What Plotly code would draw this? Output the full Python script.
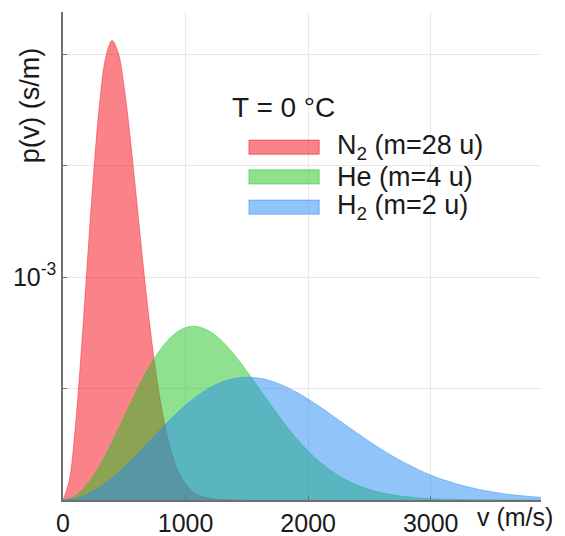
import plotly.graph_objects as go

# speeds (m/s) and densities, in units of 1e-3 s/m
speed_n2 = list(range(0, 1550, 50))
density_n2 = [0.0, 0.085, 0.325, 0.677, 1.081, 1.470, 1.787, 1.990, 2.062, 2.008,
              1.850, 1.618, 1.351, 1.078, 0.824, 0.605, 0.427, 0.290, 0.189, 0.119,
              0.072, 0.042, 0.024, 0.013, 0.007, 0.0035, 0.0017, 0.0008, 0.0004, 0.0002, 0.0]

speed_he = list(range(0, 4000, 100))
density_he = [0.0, 0.0185, 0.0721, 0.1553, 0.2596, 0.3747, 0.4897, 0.5943, 0.680, 0.741,
              0.7737, 0.7779, 0.7558, 0.7118, 0.6503, 0.578, 0.5007, 0.4225, 0.3478, 0.2797,
              0.2198, 0.1688, 0.1269, 0.0932, 0.0671, 0.0472, 0.0326, 0.0220, 0.0146, 0.0095,
              0.0060, 0.0038, 0.0023, 0.0014, 0.0008, 0.0005, 0.0003, 0.0002, 0.0001, 0.0]

speed_h2 = list(range(0, 4000, 100))
density_h2 = [0.0, 0.0066, 0.0260, 0.0572, 0.0985, 0.1479, 0.2029, 0.2608, 0.3189, 0.3745,
              0.4252, 0.4689, 0.5042, 0.5300, 0.5457, 0.5512, 0.5470, 0.5340, 0.5131, 0.4855,
              0.4530, 0.4169, 0.3785, 0.3393, 0.3003, 0.2626, 0.2268, 0.1936, 0.1634, 0.1363,
              0.1124, 0.0917, 0.0741, 0.0592, 0.0467, 0.0365, 0.0283, 0.0216, 0.0164, 0.0123]

gases = ["N<sub>2</sub> (m=28 u)", "He (m=4 u)", "H<sub>2</sub> (m=2 u)"]
fills = ["rgba(245,8,20,0.5)", "rgba(31,195,31,0.5)", "rgba(35,138,242,0.5)"]
series = [(speed_n2, density_n2), (speed_he, density_he), (speed_h2, density_h2)]

FONT = "Liberation Sans, Arial, sans-serif"

fig = go.Figure()
for name, color, (xs, ys) in zip(gases, fills, series):
    fig.add_trace(go.Scatter(
        x=xs, y=[p * 1e-3 for p in ys], name=name, mode="lines",
        line=dict(color=color, width=0.8, shape="spline"),
        fill="tozeroy", fillcolor=color,
    ))

# page body adds an 8px offset, so the figure is a bit smaller than the window
fig.update_layout(
    width=557, height=528,
    margin=dict(l=55, r=24, t=4, b=36),
    plot_bgcolor="white", paper_bgcolor="white",
    showlegend=False,
    font=dict(family=FONT, size=25, color="#1a1a1a"),
)
fig.update_xaxes(
    range=[0, 3900], tickvals=[0, 1000, 2000, 3000],
    showgrid=True, gridcolor="#e8e8e8", gridwidth=1,
    showline=True, linecolor="#707070", linewidth=1.5,
    ticks="inside", ticklen=4, tickcolor="#707070",
    zeroline=False, automargin=False,
)
fig.update_yaxes(
    range=[0, 2.19e-3], tickvals=[0.5e-3, 1e-3, 1.5e-3, 2e-3],
    ticktext=["", "10<sup>-3</sup>", "", ""],
    showgrid=True, gridcolor="#e8e8e8", gridwidth=1,
    showline=True, linecolor="#707070", linewidth=1.5,
    ticks="inside", ticklen=4, tickcolor="#707070",
    zeroline=False, automargin=False,
)

# axis titles
fig.add_annotation(text="p(v) (s/m)", textangle=-90, x=-0.069, y=0.807,
                   xref="paper", yref="paper", showarrow=False,
                   font=dict(size=27), xanchor="center", yanchor="middle")
fig.add_annotation(text="v (m/s)", x=0.862, y=-0.035, xref="paper", yref="paper",
                   showarrow=False, xanchor="left", yanchor="middle")

# hand-made legend
fig.add_annotation(text="T = 0 °C", x=0.349, y=0.805, xref="paper", yref="paper",
                   showarrow=False, xanchor="left", yanchor="middle",
                   font=dict(size=28))
row_y = [0.723, 0.662, 0.600]
for name, color, yc in zip(gases, fills, row_y):
    fig.add_shape(type="rect", xref="paper", yref="paper",
                  x0=0.389, x1=0.536, y0=yc - 0.0145, y1=yc + 0.0145,
                  fillcolor=color, line=dict(color=color, width=1))
    fig.add_annotation(text=name, x=0.569, y=yc, xref="paper", yref="paper",
                       showarrow=False, xanchor="left", yanchor="middle",
                       font=dict(size=27))

fig.write_html("out.html")
